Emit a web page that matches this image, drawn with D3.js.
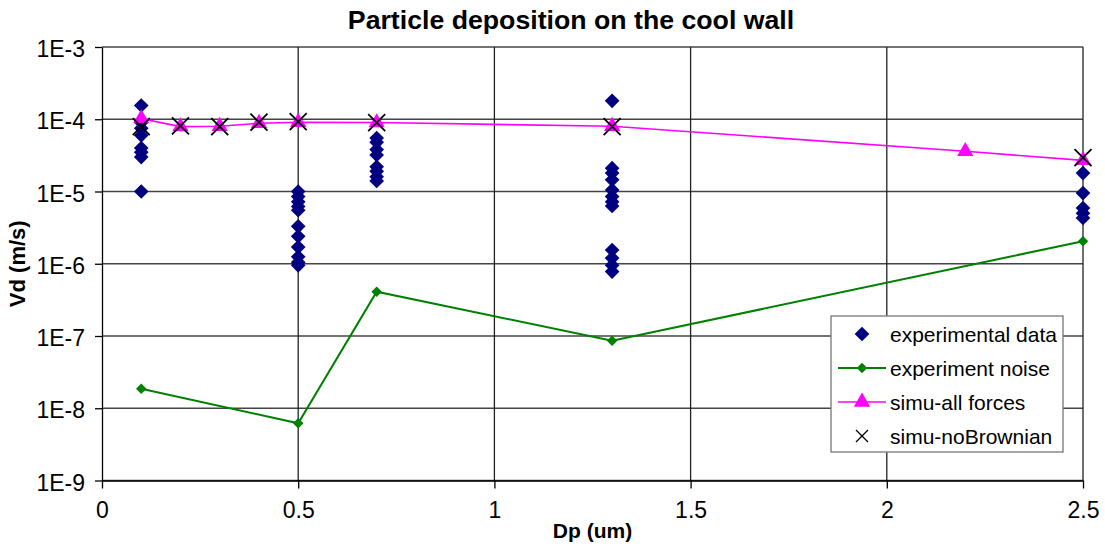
<!DOCTYPE html>
<html>
<head>
<meta charset="utf-8">
<script src="https://cdn.jsdelivr.net/npm/d3@7"></script>
<style>
  body { margin: 0; background: #fff; }
  svg text { font-family: "Liberation Sans", Arial, sans-serif; fill: #000; }
</style>
</head>
<body>
<svg id="chart" width="1105" height="550"></svg>
<script>
// experimental data (Dp in um, Vd in m/s)
var expDp = [0.1, 0.1, 0.1, 0.1, 0.1, 0.1, 0.1, 0.1,
             0.5, 0.5, 0.5, 0.5, 0.5, 0.5, 0.5, 0.5, 0.5, 0.5, 0.5,
             0.7, 0.7, 0.7, 0.7, 0.7, 0.7, 0.7, 0.7,
             1.3, 1.3, 1.3, 1.3, 1.3, 1.3, 1.3, 1.3, 1.3, 1.3, 1.3, 1.3,
             2.5, 2.5, 2.5, 2.5, 2.5];
var expVd = [1.55e-4, 9e-5, 7.5e-5, 6e-5, 4e-5, 3.5e-5, 3e-5, 1e-5,
             1.0e-5, 8.5e-6, 7.2e-6, 6.2e-6, 5.5e-6, 3.3e-6, 2.4e-6, 1.7e-6, 1.25e-6, 1.05e-6, 9.5e-7,
             5.5e-5, 4.8e-5, 3.8e-5, 3.2e-5, 2.2e-5, 1.9e-5, 1.6e-5, 1.4e-5,
             1.8e-4, 2.1e-5, 1.8e-5, 1.45e-5, 1.05e-5, 8.5e-6, 7.2e-6, 6.3e-6, 1.55e-6, 1.2e-6, 9.5e-7, 7.8e-7,
             1.8e-5, 9.5e-6, 5.9e-6, 5e-6, 4.3e-6];

var noiseDp = [0.1, 0.5, 0.7, 1.3, 2.5];
var noiseVd = [1.86e-8, 6.2e-9, 4.1e-7, 8.6e-8, 2.05e-6];

var allDp = [0.1, 0.2, 0.3, 0.4, 0.5, 0.7, 1.3, 2.2, 2.5];
var allVd = [1.02e-4, 7.9e-5, 8.0e-5, 8.8e-5, 9.1e-5, 9.0e-5, 8.0e-5, 3.6e-5, 2.7e-5];

var noBrDp = [0.1, 0.2, 0.3, 0.4, 0.5, 0.7, 1.3, 2.5];
var noBrVd = [7.9e-5, 8.1e-5, 7.9e-5, 9.1e-5, 9.3e-5, 9.0e-5, 7.9e-5, 2.95e-5];

var xTicks = [0, 0.5, 1, 1.5, 2, 2.5];
var yTicks = [1e-9, 1e-8, 1e-7, 1e-6, 1e-5, 1e-4, 1e-3];
var seriesNames = ["experimental data", "experiment noise", "simu-all forces", "simu-noBrownian"];

var plotLeft = 102, plotRight = 1083, plotTop = 47, plotBottom = 480.5;

var svg = d3.select("#chart");

var x = d3.scaleLinear().domain([0, 2.5]).range([plotLeft, plotRight]);
var y = d3.scaleLog().domain([1e-9, 1e-3]).range([plotBottom, plotTop]);

function pts(xs, ys) {
  return xs.map(function(d, i) { return { x: d, y: ys[i] }; });
}

// square diamond (rotated square)
function diamondPath(size) {
  return d3.symbol().type(d3.symbolSquare).size(size)();
}
function at(d) { return "translate(" + x(d.x) + "," + y(d.y) + ")"; }

// gridlines
svg.append("g").selectAll("line")
  .data(yTicks)
  .enter().append("line")
  .attr("x1", plotLeft).attr("x2", plotRight)
  .attr("y1", function(d) { return y(d); })
  .attr("y2", function(d) { return y(d); })
  .attr("stroke", "#444").attr("stroke-width", 1.3);

svg.append("g").selectAll("line")
  .data(xTicks.slice(1))
  .enter().append("line")
  .attr("x1", function(d) { return x(d); })
  .attr("x2", function(d) { return x(d); })
  .attr("y1", plotTop).attr("y2", plotBottom)
  .attr("stroke", "#222").attr("stroke-width", 1.3);

// axes
var yAxis = d3.axisLeft(y).tickValues(yTicks).tickSizeInner(7).tickSizeOuter(0).tickPadding(10)
  .tickFormat(function(d) { return "1E" + Math.round(Math.log10(d)); });
var xAxis = d3.axisBottom(x).tickValues(xTicks).tickSizeInner(8).tickSizeOuter(0).tickPadding(13)
  .tickFormat(d3.format("~g"));

var gy = svg.append("g").attr("transform", "translate(" + plotLeft + ",0)").call(yAxis);
var gx = svg.append("g").attr("transform", "translate(0," + plotBottom + ")").call(xAxis);
[gy, gx].forEach(function(g) {
  g.selectAll("path, line").attr("stroke", "#000").attr("stroke-width", 1.3);
  g.selectAll("text").style("font-size", "23px").style("font-family", "Liberation Sans, Arial, sans-serif");
});
gy.selectAll("text").attr("dy", "0.42em");

// experimental data
svg.append("g").selectAll("path")
  .data(pts(expDp, expVd))
  .enter().append("path")
  .attr("d", diamondPath(108))
  .attr("transform", function(d) { return at(d) + " rotate(45)"; })
  .attr("fill", "#000080");

// experiment noise
var line = d3.line().x(function(d) { return x(d.x); }).y(function(d) { return y(d.y); });
var noise = pts(noiseDp, noiseVd);
svg.append("path").datum(noise)
  .attr("d", line).attr("fill", "none")
  .attr("stroke", "#008000").attr("stroke-width", 2);
svg.append("g").selectAll("path")
  .data(noise)
  .enter().append("path")
  .attr("d", diamondPath(55))
  .attr("transform", function(d) { return at(d) + " rotate(45)"; })
  .attr("fill", "#008000");

// simu-all forces
var all = pts(allDp, allVd);
svg.append("path").datum(all)
  .attr("d", line).attr("fill", "none")
  .attr("stroke", "#ff00ff").attr("stroke-width", 1.6);
svg.append("g").selectAll("path")
  .data(all)
  .enter().append("path")
  .attr("d", d3.symbol().type(d3.symbolTriangle).size(115)())
  .attr("transform", at)
  .attr("fill", "#ff00ff");

// simu-noBrownian
function cross(g, s) {
  g.append("line").attr("x1", -s).attr("y1", -s).attr("x2", s).attr("y2", s);
  g.append("line").attr("x1", -s).attr("y1", s).attr("x2", s).attr("y2", -s);
}
svg.append("g").selectAll("g")
  .data(pts(noBrDp, noBrVd))
  .enter().append("g")
  .attr("transform", at)
  .attr("stroke", "#000").attr("stroke-width", 1.8)
  .each(function() { cross(d3.select(this), 8.5); });

// titles
svg.append("text").attr("x", 571).attr("y", 29).attr("text-anchor", "middle")
  .style("font-size", "26.7px").style("font-weight", "bold")
  .text("Particle deposition on the cool wall");
svg.append("text").attr("x", (plotLeft + plotRight) / 2).attr("y", 538).attr("text-anchor", "middle")
  .style("font-size", "21px").style("font-weight", "bold")
  .text("Dp (um)");
svg.append("text").attr("transform", "translate(25," + ((plotTop + plotBottom) / 2) + ") rotate(-90)")
  .attr("text-anchor", "middle")
  .style("font-size", "22px").style("font-weight", "bold")
  .text("Vd (m/s)");

// legend
var lg = svg.append("g").attr("transform", "translate(831,316)");
lg.append("rect").attr("width", 232).attr("height", 136)
  .attr("fill", "#fff").attr("stroke", "#777").attr("stroke-width", 1.3);
var rows = lg.selectAll("g.row")
  .data(seriesNames)
  .enter().append("g").attr("class", "row")
  .attr("transform", function(d, i) { return "translate(0," + (18 + i * 34) + ")"; });
rows.append("text").attr("x", 59).attr("y", 0).attr("dy", "0.36em")
  .style("font-size", "21px").text(function(d) { return d; });
rows.each(function(d, i) {
  var r = d3.select(this);
  if (i == 0) {
    r.append("path").attr("d", diamondPath(108)).attr("transform", "translate(31,0) rotate(45)").attr("fill", "#000080");
  } else if (i == 1) {
    r.append("line").attr("x1", 7).attr("x2", 55).attr("stroke", "#008000").attr("stroke-width", 2);
    r.append("path").attr("d", diamondPath(55)).attr("transform", "translate(31,0) rotate(45)").attr("fill", "#008000");
  } else if (i == 2) {
    r.append("line").attr("x1", 7).attr("x2", 55).attr("stroke", "#ff00ff").attr("stroke-width", 1.6);
    r.append("path").attr("d", d3.symbol().type(d3.symbolTriangle).size(115)()).attr("transform", "translate(31,0)").attr("fill", "#ff00ff");
  } else {
    var c = r.append("g").attr("transform", "translate(31,0)").attr("stroke", "#000").attr("stroke-width", 1.3);
    cross(c, 6);
  }
});
</script>
</body>
</html>
